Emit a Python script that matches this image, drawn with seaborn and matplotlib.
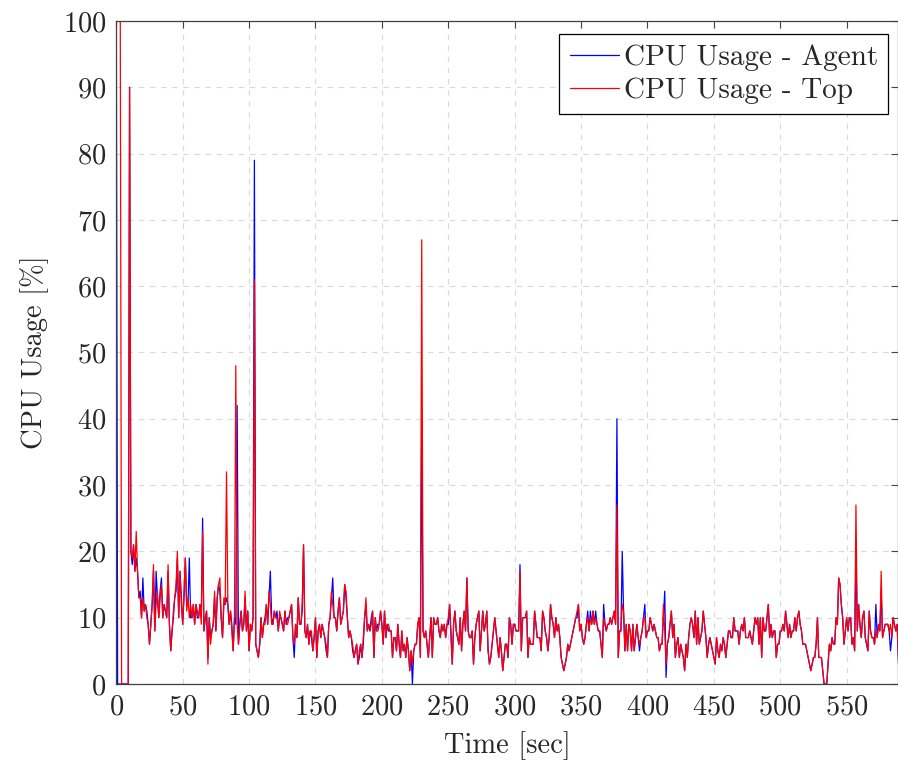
import numpy as np
import pandas as pd
import matplotlib
matplotlib.use("Agg")
import matplotlib.pyplot as plt
import seaborn as sns

# time in seconds (one sample per second)
time_sec = list(range(590))

# CPU usage reported by `top` (red)
cpu_top = [
    100, 100, 100, 100, 0, 0, 0, 0, 0, 0,
    90, 20, 19, 21, 17, 23, 17, 13, 13, 10,
    13, 11, 12, 10, 9, 6, 9, 12, 18, 8,
    12, 14, 10, 13, 15, 10, 12, 11, 10, 18,
    9, 5, 8, 11, 13, 15, 20, 10, 17, 12,
    9, 14, 19, 11, 13, 10, 12, 10, 12, 9,
    12, 11, 10, 12, 9, 23, 8, 10, 11, 3,
    10, 6, 8, 9, 14, 8, 13, 15, 16, 10,
    7, 13, 12, 32, 12, 9, 11, 8, 5, 10,
    48, 9, 6, 9, 11, 8, 9, 14, 8, 11,
    5, 9, 8, 10, 61, 6, 5, 4, 6, 10,
    7, 9, 9, 12, 9, 14, 12, 9, 9, 11,
    10, 10, 8, 11, 10, 9, 8, 11, 9, 9,
    10, 11, 12, 7, 6, 9, 7, 13, 9, 9,
    12, 21, 8, 7, 9, 6, 8, 8, 5, 7,
    10, 4, 8, 9, 7, 9, 8, 7, 6, 4,
    9, 10, 14, 12, 10, 10, 8, 11, 13, 9,
    10, 11, 15, 14, 10, 7, 8, 7, 6, 4,
    5, 6, 3, 5, 6, 4, 7, 10, 13, 8,
    9, 8, 9, 11, 4, 10, 8, 8, 9, 11,
    9, 6, 11, 7, 9, 9, 8, 8, 4, 7,
    7, 5, 9, 6, 4, 8, 5, 6, 4, 7,
    5, 2, 5, 3, 5, 6, 6, 9, 10, 4,
    67, 8, 7, 8, 6, 4, 7, 10, 4, 10,
    9, 9, 10, 8, 7, 9, 8, 9, 7, 9,
    10, 12, 7, 3, 9, 11, 8, 7, 6, 10,
    5, 9, 11, 8, 16, 8, 7, 7, 8, 3,
    7, 9, 10, 11, 5, 8, 11, 8, 9, 11,
    5, 3, 4, 6, 8, 10, 8, 6, 4, 7,
    5, 2, 4, 6, 6, 4, 10, 9, 6, 9,
    9, 8, 8, 8, 17, 5, 10, 10, 10, 11,
    4, 7, 6, 6, 6, 11, 9, 7, 7, 7,
    5, 11, 10, 8, 7, 5, 7, 12, 10, 9,
    7, 10, 8, 9, 7, 4, 3, 2, 3, 4,
    6, 5, 6, 7, 8, 9, 10, 11, 12, 8,
    9, 7, 6, 7, 9, 10, 8, 10, 9, 11,
    9, 10, 9, 8, 8, 6, 4, 10, 9, 8,
    9, 9, 10, 9, 10, 11, 9, 27, 4, 8,
    8, 12, 11, 5, 9, 5, 9, 8, 5, 9,
    5, 7, 9, 7, 6, 7, 8, 10, 10, 7,
    8, 8, 10, 9, 8, 9, 8, 7, 7, 5,
    6, 6, 12, 8, 3, 6, 7, 9, 11, 7,
    9, 4, 6, 7, 4, 6, 5, 4, 2, 6,
    4, 7, 9, 10, 9, 7, 11, 6, 10, 6,
    7, 8, 11, 9, 7, 4, 6, 7, 6, 5,
    4, 3, 7, 5, 4, 6, 5, 7, 6, 4,
    6, 8, 8, 7, 7, 10, 8, 8, 8, 6,
    8, 9, 8, 10, 7, 7, 7, 8, 7, 6,
    8, 10, 9, 10, 6, 10, 4, 10, 8, 8,
    10, 12, 7, 9, 7, 8, 8, 4, 6, 6,
    8, 8, 9, 8, 11, 9, 7, 9, 7, 8,
    8, 10, 8, 10, 11, 9, 8, 6, 6, 6,
    5, 4, 3, 2, 3, 4, 4, 6, 10, 4,
    4, 4, 2, 0, 0, 0, 3, 6, 5, 7,
    6, 6, 10, 9, 16, 15, 12, 10, 6, 8,
    10, 8, 10, 10, 6, 7, 5, 27, 8, 12,
    9, 7, 10, 11, 7, 6, 5, 11, 8, 7,
    7, 6, 8, 7, 9, 8, 17, 7, 8, 9,
    9, 9, 8, 9, 7, 10, 9, 8, 9, 4,
]

# CPU usage reported by the agent (blue)
cpu_agent = [
    100, 0, 0, 0, 0, 0, 0, 0, 0, 0,
    90, 20, 18, 21, 17, 19, 17, 13, 14, 10,
    16, 11, 12, 11, 9, 6, 9, 12, 17, 8,
    17, 13, 10, 14, 16, 10, 12, 11, 10, 17,
    9, 5, 8, 10, 13, 14, 19, 10, 17, 13,
    9, 13, 19, 12, 12, 19, 10, 10, 12, 9,
    12, 10, 10, 12, 10, 25, 8, 10, 11, 4,
    10, 7, 8, 9, 13, 8, 13, 15, 14, 10,
    7, 12, 12, 13, 12, 9, 11, 9, 5, 10,
    9, 42, 6, 9, 11, 8, 9, 13, 8, 11,
    5, 9, 8, 10, 79, 6, 5, 4, 6, 10,
    7, 9, 10, 12, 9, 13, 17, 10, 9, 11,
    10, 11, 8, 10, 10, 9, 8, 11, 9, 10,
    10, 11, 12, 7, 4, 9, 7, 13, 9, 9,
    11, 21, 8, 7, 9, 6, 8, 7, 5, 7,
    10, 4, 8, 9, 7, 9, 8, 7, 5, 4,
    9, 10, 13, 16, 10, 10, 8, 11, 13, 9,
    10, 11, 15, 13, 10, 7, 8, 7, 5, 4,
    5, 6, 3, 4, 6, 4, 6, 10, 12, 8,
    9, 8, 10, 11, 4, 10, 8, 9, 9, 11,
    9, 6, 11, 7, 9, 8, 8, 8, 4, 7,
    7, 5, 9, 6, 4, 8, 5, 6, 4, 7,
    5, 2, 5, 0, 5, 6, 6, 9, 10, 4,
    39, 8, 7, 8, 6, 4, 7, 10, 4, 10,
    9, 9, 10, 8, 7, 9, 8, 9, 7, 9,
    9, 12, 8, 3, 9, 11, 8, 7, 6, 10,
    5, 9, 11, 8, 16, 8, 7, 7, 8, 3,
    7, 9, 10, 11, 5, 8, 11, 8, 9, 11,
    5, 3, 4, 6, 8, 10, 8, 6, 4, 7,
    5, 2, 4, 6, 6, 4, 10, 9, 6, 9,
    9, 8, 8, 8, 18, 5, 10, 10, 10, 11,
    4, 7, 6, 6, 6, 11, 9, 7, 7, 7,
    5, 11, 10, 8, 7, 5, 7, 12, 10, 9,
    7, 10, 8, 9, 7, 4, 3, 2, 3, 4,
    6, 5, 6, 7, 8, 9, 10, 10, 12, 8,
    9, 7, 6, 7, 9, 11, 8, 11, 9, 11,
    9, 11, 9, 8, 8, 6, 4, 12, 9, 8,
    9, 9, 10, 9, 10, 11, 9, 40, 4, 8,
    8, 20, 11, 5, 9, 5, 9, 8, 5, 9,
    5, 7, 9, 7, 5, 7, 8, 10, 12, 7,
    8, 8, 10, 9, 8, 9, 8, 7, 7, 5,
    6, 6, 10, 14, 1, 6, 7, 9, 11, 7,
    9, 4, 6, 7, 4, 6, 5, 4, 2, 6,
    4, 7, 9, 10, 9, 7, 11, 6, 10, 6,
    7, 8, 11, 9, 7, 4, 6, 7, 6, 5,
    4, 3, 7, 5, 4, 6, 5, 7, 6, 4,
    6, 8, 8, 7, 7, 10, 8, 8, 8, 6,
    8, 9, 8, 10, 7, 7, 7, 8, 7, 6,
    8, 10, 9, 10, 6, 10, 4, 10, 8, 8,
    10, 12, 7, 9, 7, 8, 8, 4, 6, 6,
    8, 8, 9, 8, 11, 9, 7, 9, 7, 8,
    8, 10, 8, 10, 11, 9, 8, 6, 6, 6,
    5, 4, 3, 2, 3, 4, 4, 6, 10, 4,
    4, 4, 2, 0, 0, 0, 3, 6, 5, 7,
    6, 6, 10, 9, 16, 15, 12, 10, 6, 8,
    10, 8, 10, 10, 6, 7, 5, 20, 8, 12,
    9, 7, 10, 11, 7, 6, 5, 11, 8, 7,
    7, 6, 12, 7, 9, 8, 14, 7, 8, 9,
    9, 9, 8, 5, 7, 10, 9, 8, 9, 3,
]

series_names = ["CPU Usage - Agent", "CPU Usage - Top"]
series_colors = ["#0000ff", "#ff0000"]
x_ticks = list(range(0, 551, 50))
y_ticks = list(range(0, 101, 10))

df = pd.DataFrame({
    "Time": time_sec * 2,
    "CPU": cpu_agent + cpu_top,
    "Series": [series_names[0]] * len(time_sec) + [series_names[1]] * len(time_sec),
})

sns.set_style("white")
plt.rcParams["font.family"] = ["cmr10", "DejaVu Serif"]
plt.rcParams["mathtext.fontset"] = "cm"
plt.rcParams["axes.formatter.use_mathtext"] = True
FS = 20.5

fig = plt.figure(figsize=(8.98, 7.60), dpi=100)
ax = fig.add_axes([0.1295, 0.1, 0.871, 0.8724])

sns.lineplot(data=df, x="Time", y="CPU", hue="Series", hue_order=series_names,
             palette=dict(zip(series_names, series_colors)), linewidth=0.9,
             ax=ax, estimator=None, sort=False)

ax.set_xlim(0, 589)
ax.set_ylim(0, 100)
ax.set_xticks(x_ticks)
ax.set_yticks(y_ticks)
ax.tick_params(direction="in", length=5, width=0.8, color="#444444",
               top=True, right=True, labelsize=FS, pad=7)
ax.grid(True, which="major", linestyle=(0, (5, 5)), color="#d9d9d9", linewidth=0.8)
ax.set_axisbelow(True)
for s in ax.spines.values():
    s.set_color("#404040")
    s.set_linewidth(0.9)

ax.set_xlabel("Time [sec]", fontsize=FS, labelpad=8)
ax.set_ylabel("CPU Usage [%]", fontsize=FS, labelpad=10)

leg = ax.legend(loc="upper right", bbox_to_anchor=(0.9866, 0.980), borderaxespad=0,
                prop={"size": 21}, frameon=True, fancybox=False, edgecolor="black",
                framealpha=1, handlelength=1.7, handletextpad=0.15,
                borderpad=0.35, labelspacing=0.22, title=None)
leg.get_frame().set_linewidth(0.9)
for h in leg.get_lines():
    h.set_linewidth(0.9)

fig.savefig("out.png", dpi=100)
